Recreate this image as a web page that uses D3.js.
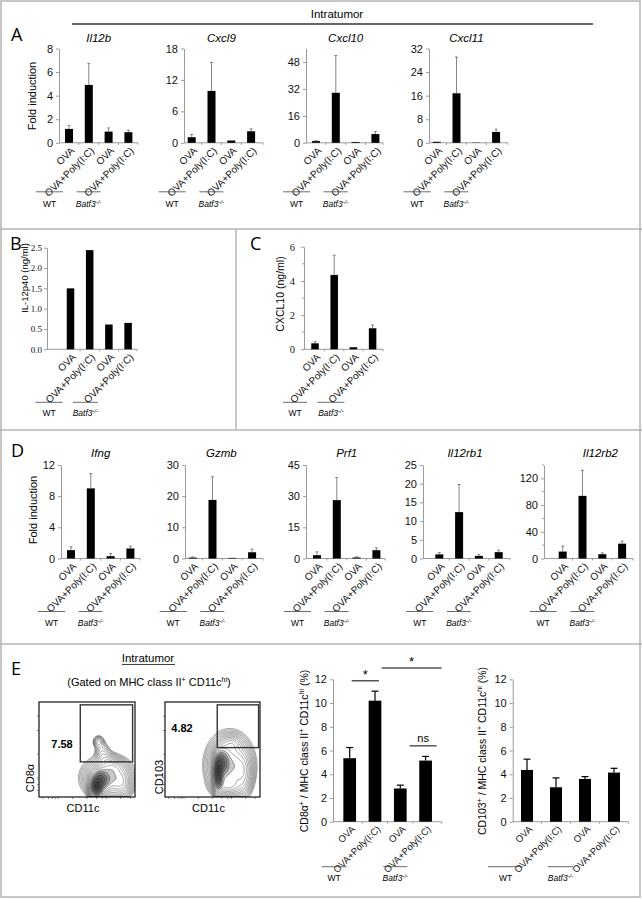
<!DOCTYPE html>
<html><head><meta charset="utf-8">
<script src="https://cdn.jsdelivr.net/npm/d3@7"></script>
<style>body{margin:0;background:#fff;} svg{display:block;}</style>
</head><body>
<svg id="fig" width="642" height="899"></svg>
<script>
// ---------------- DATA ----------------
const treatments = ["OVA", "OVA+Poly(I:C)", "OVA", "OVA+Poly(I:C)"];
const genotypes = ["WT", "Batf3"];

// Panel A: intratumor fold induction
const aGenes = ["Il12b", "Cxcl9", "Cxcl10", "Cxcl11"];
const aMeans = [[1.18, 4.91, 0.95, 0.90], [1.07, 9.90, 0.44, 2.20], [1.0, 29.7, 0.5, 5.2], [0.35, 16.8, 0.1, 3.7]];
const aErrors = [[0.30, 1.83, 0.31, 0.16], [0.51, 5.45, 0.0, 0.45], [0.3, 22.1, 0.0, 1.5], [0.0, 12.3, 0.0, 0.9]];
const aMax = [8, 18, 56, 32];
const aTicks = [[0, 2, 4, 6, 8], [0, 6, 12, 18], [0, 16, 32, 48], [0, 8, 16, 24, 32]];

// Panel B: IL-12p40 (ng/ml)
const bValues = [1.50, 2.44, 0.61, 0.65];
const bTicks = [0, 0.5, 1.0, 1.5, 2.0, 2.5];

// Panel C: CXCL10 (ng/ml)
const cMeans = [0.35, 4.35, 0.12, 1.23];
const cErrors = [0.09, 1.15, 0.0, 0.19];
const cTicks = [0, 2, 4, 6];
const cMinorTicks = [1, 3, 5];

// Panel D: fold induction
const dGenes = ["Ifng", "Gzmb", "Prf1", "Il12rb1", "Il12rb2"];
const dMeans = [[1.07, 9.0, 0.3, 1.29], [0.3, 18.8, 0.2, 2.0], [1.6, 28.1, 0.5, 4.0], [1.1, 12.4, 0.7, 1.7], [10.4, 93.8, 6.4, 22.2]];
const dErrors = [[0.43, 1.9, 0.34, 0.29], [0.2, 7.4, 0.0, 1.0], [1.6, 10.9, 0.3, 1.1], [0.46, 7.4, 0.4, 0.5], [8.3, 38.2, 1.9, 3.8]];
const dMax = [12, 30, 45, 25, 140];
const dTicks = [[0, 4, 8, 12], [0, 10, 20, 30], [0, 15, 30, 45], [0, 5, 10, 15, 20, 25], [0, 40, 80, 120]];

// Panel E: percentages
const eCD8Means = [5.35, 10.2, 2.8, 5.15];
const eCD8Errors = [0.9, 0.8, 0.28, 0.35];
const eCD103Means = [4.36, 2.9, 3.6, 4.14];
const eCD103Errors = [0.91, 0.79, 0.2, 0.36];
const eTicks = [0, 2, 4, 6, 8, 10, 12];
const flowPercents = ["7.58", "4.82"];
// flow contour populations: [x, y, spreadX, spreadY, weight] in plot fractions
const flowCD8Pops = [[0.60, 0.10, 0.035, 0.06, 1.0], [0.64, 0.18, 0.05, 0.06, 0.55], [0.72, 0.20, 0.12, 0.10, 0.30],
  [0.86, 0.15, 0.05, 0.08, 0.12], [0.78, 0.31, 0.06, 0.05, 0.10], [0.62, 0.58, 0.03, 0.035, 0.06],
  [0.66, 0.47, 0.04, 0.06, 0.05], [0.71, 0.38, 0.05, 0.05, 0.06]];
const flowCD103Pops = [[0.56, 0.25, 0.025, 0.10, 1.0], [0.60, 0.36, 0.04, 0.08, 0.5], [0.68, 0.33, 0.11, 0.15, 0.30],
  [0.70, 0.56, 0.06, 0.05, 0.08], [0.82, 0.25, 0.05, 0.12, 0.12], [0.66, 0.12, 0.08, 0.05, 0.15]];

// ---------------- DRAWING ----------------
const SANS = "'Liberation Sans', Arial, sans-serif";
const SERIF = "'Liberation Serif', 'Times New Roman', serif";
const svg = d3.select("#fig").attr("font-family", SANS);
const GRID = "#b4b4b4";
const AX = "#9a9a9a";

// frame & dividers
svg.append("rect").attr("x", 1).attr("y", 1).attr("width", 639).attr("height", 896)
  .attr("fill", "none").attr("stroke", GRID).attr("stroke-width", 1.5);
[[0, 229, 642, 229], [236, 229, 236, 430], [0, 430, 642, 430], [0, 644, 642, 644]].forEach(l =>
  svg.append("line").attr("x1", l[0]).attr("y1", l[1]).attr("x2", l[2]).attr("y2", l[3])
    .attr("stroke", GRID).attr("stroke-width", 1.5));

// panel letters
[["A", 11, 41], ["B", 10, 250], ["C", 250, 250], ["D", 11, 457], ["E", 11, 675]].forEach(p =>
  svg.append("text").attr("x", p[1]).attr("y", p[2]).attr("font-size", 18).attr("font-family", "'Open Sans', sans-serif").text(p[0]));

function genoLabel(g, cx, y, size, italic) {
  const t = g.append("text").attr("x", cx).attr("y", y).attr("text-anchor", "middle").attr("font-size", size);
  if (!italic) { t.text("WT"); return; }
  t.attr("font-style", "italic");
  t.append("tspan").text("Batf3");
  t.append("tspan").attr("dy", -3).attr("font-size", size * 0.7).text("-/-");
}

function barChart(o) {
  const g = svg.append("g");
  const y = d3.scaleLinear().domain([0, o.max]).range([o.base, o.top]);
  const x = d3.scalePoint().domain(d3.range(o.means.length)).range([o.first, o.first + o.step * (o.means.length - 1)]);
  const axis = d3.axisLeft(y).tickValues(o.ticks).tickSizeInner(3).tickSizeOuter(0)
    .tickPadding(o.pad ?? 3).tickFormat(o.fmt || (d => d));
  const ay = g.append("g").attr("transform", `translate(${o.axisX},0)`).call(axis);
  ay.attr("font-family", null).attr("font-size", null);
  ay.select(".domain").attr("stroke", AX).attr("stroke-width", 1);
  ay.selectAll(".tick line").attr("stroke", AX);
  ay.selectAll(".tick text").attr("font-size", o.tickSize || 11).attr("font-family", o.tickFamily || SANS).attr("fill", "#111");
  (o.minor || []).forEach(v => g.append("line").attr("x1", o.axisX - 2).attr("x2", o.axisX)
    .attr("y1", y(v)).attr("y2", y(v)).attr("stroke", AX));
  // x baseline
  g.append("line").attr("x1", o.axisX).attr("x2", o.endX).attr("y1", y(0)).attr("y2", y(0))
    .attr("stroke", AX).attr("stroke-width", 1);
  // category boundary ticks
  d3.range(1, o.means.length + 1).forEach(i => {
    const bx = i < o.means.length ? (x(i - 1) + x(i)) / 2 : o.endX;
    g.append("line").attr("x1", bx).attr("x2", bx).attr("y1", y(0)).attr("y2", y(0) + 2).attr("stroke", AX);
  });
  // bars
  g.selectAll("rect.bar").data(o.means).join("rect").attr("class", "bar")
    .attr("x", (d, i) => x(i) - o.barW / 2).attr("y", d => y(d))
    .attr("width", o.barW).attr("height", d => y(0) - y(d)).attr("fill", "#000");
  // error bars (upper)
  if (o.errors) {
    const eb = g.selectAll("g.err").data(o.means.map((m, i) => [m, o.errors[i]])).join("g").attr("class", "err");
    eb.filter(d => d[1] > 0).append("line").attr("x1", 0).attr("x2", 0)
      .attr("y1", d => y(d[0])).attr("y2", d => y(d[0] + d[1]));
    eb.filter(d => d[1] > 0).append("line").attr("x1", -o.cap).attr("x2", o.cap)
      .attr("y1", d => y(d[0] + d[1])).attr("y2", d => y(d[0] + d[1]));
    eb.attr("transform", (d, i) => `translate(${x(i)},0)`)
      .selectAll("line").attr("stroke", o.errColor || "#666").attr("stroke-width", o.errW || 0.8);
  }
  // rotated category labels
  g.selectAll("text.xl").data(treatments).join("text").attr("class", "xl")
    .attr("transform", (d, i) => `translate(${x(i) + o.lx},${y(0) + o.ly}) rotate(-45)`)
    .attr("text-anchor", "end").attr("font-size", o.labelSize || 10).attr("fill", "#111").text(d => d);
  // title
  if (o.title) g.append("text").attr("x", (x(0) + x(3)) / 2 + (o.titleDx || 0)).attr("y", o.titleY)
    .attr("text-anchor", "middle").attr("font-style", "italic").attr("font-size", 11.5).text(o.title);
  // genotype group labels
  const gy = y(0) + o.gy;
  [[x(0), o.gw[0]], [x(2), o.gw[1]]].forEach((p, k) => {
    const [bx, off] = p;
    g.append("line").attr("x1", bx + off[0]).attr("x2", bx + off[1]).attr("y1", gy).attr("y2", gy)
      .attr("stroke", "#444").attr("stroke-width", 0.8);
    genoLabel(g, bx + (off[0] + off[1]) / 2, gy + o.gt, o.gSize || 8.5, k === 1);
  });
  return { g, x, y };
}

// ---- Panel A ----
svg.append("text").attr("x", 337).attr("y", 18).attr("text-anchor", "middle").attr("font-size", 11.5).text("Intratumor");
svg.append("line").attr("x1", 72).attr("x2", 593).attr("y1", 24).attr("y2", 24).attr("stroke", "#666").attr("stroke-width", 2.2);
const aLayout = [
  { axisX: 59, first: 69, endX: 138 },
  { axisX: 184, first: 191.7, endX: 263 },
  { axisX: 306, first: 316, endX: 383 },
  { axisX: 429, first: 436.7, endX: 508 }
];
aGenes.forEach((gname, k) => {
  barChart(Object.assign({
    step: 19.8, top: 48.5, base: 142.8, max: aMax[k], ticks: aTicks[k], means: aMeans[k], errors: aErrors[k],
    barW: 8, cap: 1.5, lx: 6, ly: 8.5, title: gname, titleY: 42,
    gy: 49, gt: 15, gw: [[-33, -6], [-32, -8]]
  }, aLayout[k]));
});
svg.append("text").attr("transform", "translate(36,96) rotate(-90)").attr("text-anchor", "middle")
  .attr("font-size", 11).text("Fold induction");

// ---- Panel B ----
barChart({
  axisX: 47, first: 70.5, step: 19.2, endX: 137, top: 247.7, base: 349.3, max: 2.5, ticks: bTicks,
  fmt: d3.format(".1f"), tickFamily: SERIF, tickSize: 9, pad: 2,
  means: bValues, barW: 7.5, lx: 6, ly: 8.5, gy: 53, gt: 14, gw: [[-35, -8], [-36, -11]]
});
svg.append("text").attr("transform", "translate(28,278) rotate(-90)").attr("text-anchor", "middle")
  .attr("font-size", 9.5).text("IL-12p40 (ng/ml)");

// ---- Panel C ----
barChart({
  axisX: 304, first: 315, step: 19.2, endX: 383, top: 246.7, base: 349.3, max: 6, ticks: cTicks, minor: cMinorTicks,
  tickFamily: SERIF, tickSize: 10.5, pad: 6,
  means: cMeans, errors: cErrors, barW: 7.5, cap: 1.5, lx: 6, ly: 8.5, gy: 53, gt: 14, gw: [[-32, -8], [-36, -9]]
});
svg.append("text").attr("transform", "translate(284,294) rotate(-90)").attr("text-anchor", "middle")
  .attr("font-size", 10.5).text("CXCL10 (ng/ml)");

// ---- Panel D ----
const dLayout = [
  { axisX: 61, first: 71, endX: 140, titleDx: 0 },
  { axisX: 185, first: 192.7, endX: 263, titleDx: -1 },
  { axisX: 306, first: 317, endX: 385, titleDx: 0 },
  { axisX: 423, first: 439.3, endX: 510, titleDx: -4 },
  { axisX: 544, first: 562.7, endX: 633, titleDx: 8 }
];
dGenes.forEach((gname, k) => {
  barChart(Object.assign({
    step: 19.8, top: 465, base: 558.5, max: dMax[k], ticks: dTicks[k], means: dMeans[k], errors: dErrors[k],
    barW: 8, cap: 1.5, lx: 6, ly: 8.5, title: gname, titleY: 457,
    gy: 53, gt: 14, gw: [[-33, -6], [-32, -8]],
    minor: k === 4 ? [20, 60, 100, 140] : []
  }, dLayout[k]));
});
svg.append("text").attr("transform", "translate(37,510) rotate(-90)").attr("text-anchor", "middle")
  .attr("font-size", 11).text("Fold induction");

// ---- Panel E: headers ----
svg.append("text").attr("x", 148).attr("y", 662).attr("text-anchor", "middle").attr("font-size", 11.5).text("Intratumor");
svg.append("line").attr("x1", 122).attr("x2", 175).attr("y1", 664.5).attr("y2", 664.5).attr("stroke", "#111").attr("stroke-width", 0.8);
const gate = svg.append("text").attr("x", 149).attr("y", 686).attr("text-anchor", "middle").attr("font-size", 11);
gate.append("tspan").text("(Gated on MHC class II");
gate.append("tspan").attr("dy", -4).attr("font-size", 7).text("+");
gate.append("tspan").attr("dy", 4).text(" CD11c");
gate.append("tspan").attr("dy", -4).attr("font-size", 7).text("hi");
gate.append("tspan").attr("dy", 4).text(")");

// ---- Flow plots ----
function flowPlot(o) {
  const g = svg.append("g");
  const fx = d3.scaleLinear().domain([0, 1]).range([o.x0, o.x1]);
  const fy = d3.scaleLinear().domain([0, 1]).range([o.y1, o.y0]);
  const n = 140, m = 140;
  const grid = new Float64Array(n * m);
  for (let j = 0; j < m; j++) for (let i = 0; i < n; i++) {
    const u = (i + 0.5) / n, v = 1 - (j + 0.5) / m;
    let s = 0;
    for (const b of o.pops) { const dx = (u - b[0]) / b[2], dy = (v - b[1]) / b[3]; s += b[4] * Math.exp(-0.5 * (dx * dx + dy * dy)); }
    grid[j * n + i] = s;
  }
  const mx = d3.max(grid);
  const th = d3.range(18).map(k => mx * 0.008 * Math.pow(1.32, k));
  const cs = d3.contours().size([n, m]).thresholds(th)(grid);
  const proj = d3.geoTransform({ point(px, py) { this.stream.point(fx(px / n), fy(1 - py / m)); } });
  const path = d3.geoPath(proj);
  const clipId = "clip" + o.id;
  g.append("clipPath").attr("id", clipId).append("rect").attr("x", o.x0).attr("y", o.y0).attr("width", o.x1 - o.x0).attr("height", o.y1 - o.y0);
  g.append("g").attr("clip-path", `url(#${clipId})`).selectAll("path").data(cs).join("path")
    .attr("d", path).attr("fill", (d, i) => i >= 12 ? "#000" : "none").attr("fill-opacity", 0.22)
    .attr("stroke", "#222").attr("stroke-width", 0.5).attr("stroke-opacity", 0.85);
  // frame
  g.append("rect").attr("x", o.x0).attr("y", o.y0).attr("width", o.x1 - o.x0).attr("height", o.y1 - o.y0)
    .attr("fill", "none").attr("stroke", "#111").attr("stroke-width", 1.2);
  // gate
  g.append("rect").attr("x", fx(o.gate[0])).attr("y", fy(o.gate[3])).attr("width", fx(o.gate[1]) - fx(o.gate[0]))
    .attr("height", fy(o.gate[2]) - fy(o.gate[3])).attr("fill", "none").attr("stroke", "#333").attr("stroke-width", 1.4);
  // log-axis ticks
  [0.07, 0.13, 0.2, 0.45, 0.7, 0.85].forEach(v => g.append("line").attr("x1", o.x0 - 2).attr("x2", o.x0)
    .attr("y1", fy(v)).attr("y2", fy(v)).attr("stroke", "#333").attr("stroke-width", 0.6));
  [0.04, 0.1, 0.14, 0.17, 0.2, 0.35, 0.5, 0.6, 0.66, 0.7, 0.85, 0.95].forEach(v => g.append("line").attr("x1", fx(v)).attr("x2", fx(v))
    .attr("y1", o.y1).attr("y2", o.y1 + 2).attr("stroke", "#333").attr("stroke-width", 0.6));
  g.append("text").attr("x", o.px).attr("y", o.py).attr("text-anchor", "middle").attr("font-weight", "bold").attr("font-size", 11).text(o.pct);
  g.append("text").attr("x", (o.x0 + o.x1) / 2 - 4).attr("y", 812).attr("text-anchor", "middle").attr("font-size", 11).text("CD11c");
  g.append("text").attr("transform", `translate(${o.ylx},${o.yly}) rotate(-90)`).attr("text-anchor", "middle").attr("font-size", 11).text(o.ylab);
}
flowPlot({ id: 1, x0: 39, x1: 135, y0: 702, y1: 797, pops: flowCD8Pops, gate: [0.43, 0.975, 0.37, 0.97],
  pct: flowPercents[0], px: 62, py: 748, ylab: "CD8α", ylx: 34, yly: 778 });
flowPlot({ id: 2, x0: 165, x1: 260, y0: 702, y1: 797, pops: flowCD103Pops, gate: [0.55, 0.985, 0.52, 0.97],
  pct: flowPercents[1], px: 182, py: 731.5, ylab: "CD103", ylx: 163, yly: 777 });

// ---- E bar charts ----
function eYLabel(xp, first) {
  const t = svg.append("text").attr("transform", `translate(${xp},751) rotate(-90)`).attr("text-anchor", "middle").attr("font-size", 10.5);
  t.append("tspan").text(first);
  t.append("tspan").attr("dy", -4).attr("font-size", 7).text("+");
  t.append("tspan").attr("dy", 4).text(" / MHC class II");
  t.append("tspan").attr("dy", -4).attr("font-size", 7).text("+");
  t.append("tspan").attr("dy", 4).text(" CD11c");
  t.append("tspan").attr("dy", -4).attr("font-size", 7).text("hi");
  t.append("tspan").attr("dy", 4).text(" (%)");
}
const e1 = barChart({
  axisX: 333, first: 349.7, step: 25.3, endX: 441.7, top: 679.3, base: 821.7, max: 12, ticks: eTicks,
  tickSize: 11, means: eCD8Means, errors: eCD8Errors, barW: 12.7, cap: 3.5, errColor: "#000", errW: 1.2,
  lx: 6, ly: 8, labelSize: 9.5, gy: 45, gt: 14, gw: [[-28, -3], [-17, 7]], gSize: 8.5
});
eYLabel(308, "CD8α");
const e2 = barChart({
  axisX: 512.7, first: 527, step: 29, endX: 628.3, top: 679.3, base: 821.7, max: 12, ticks: eTicks,
  tickSize: 11, means: eCD103Means, errors: eCD103Errors, barW: 12, cap: 3.5, errColor: "#000", errW: 1.2,
  lx: 6, ly: 8, labelSize: 9.5, gy: 45, gt: 14, gw: [[-39, -4], [-37, -12]], gSize: 8.5
});
eYLabel(486, "CD103");

// significance annotations on CD8 chart
const sig = [
  { a: 0, b: 1, da: 2, db: 4, v: 11.87, label: "*" },
  { a: 1, b: 3, da: 6.7, db: 16, v: 12.95, label: "*" },
  { a: 2, b: 3, da: 9.3, db: 11, v: 6.39, label: "ns" }
];
sig.forEach(s => {
  const x1 = e1.x(s.a) + s.da, x2 = e1.x(s.b) + s.db, yy = e1.y(s.v);
  svg.append("line").attr("x1", x1).attr("x2", x2).attr("y1", yy).attr("y2", yy).attr("stroke", "#000").attr("stroke-width", 1);
  svg.append("text").attr("x", (x1 + x2) / 2).attr("y", yy - (s.label === "*" ? 2 : 4)).attr("text-anchor", "middle")
    .attr("font-size", s.label === "*" ? 13 : 11).text(s.label);
});
</script>
</body></html>
